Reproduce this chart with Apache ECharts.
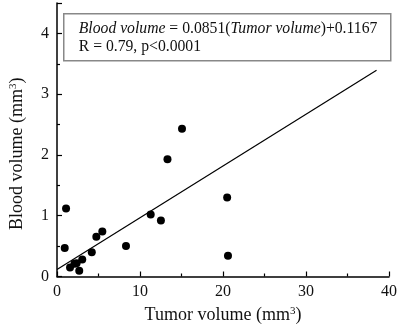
<!DOCTYPE html>
<html>
<head>
<meta charset="utf-8">
<script src="https://cdn.jsdelivr.net/npm/echarts@6/dist/echarts.min.js"></script>
<style>
  html, body { margin: 0; padding: 0; background: #fff; }
  #chart { width: 400px; height: 330px; }
</style>
</head>
<body>
<div id="chart"></div>
<script>
// measured points: tumor volume (mm3) vs blood volume (mm3)
const tumorVolume = [0.93, 1.09, 1.57, 2.1, 2.36, 2.68, 3.04, 4.19, 4.74, 5.46, 8.31, 11.29, 12.52, 13.31, 15.06, 20.5, 20.6]
const bloodVolume = [0.47, 1.12, 0.15, 0.21, 0.22, 0.095, 0.28, 0.40, 0.655, 0.74, 0.50, 1.02, 0.92, 1.93, 2.43, 1.30, 0.34]

// regression fit
const slope = 0.0851
const intercept = 0.1167
const fitRange = [0, 38.5]

const serif = 'Liberation Serif'

const chart = echarts.init(document.getElementById('chart'))

const points = tumorVolume.map((x, i) => [x, bloodVolume[i]])
const fitLine = fitRange.map(x => [x, slope * x + intercept])

const nameRich = {
  a: { fontFamily: serif, fontSize: 18, color: '#111' },
  s: { fontFamily: serif, fontSize: 11, color: '#111', verticalAlign: 'top', padding: [0, 0, 8, 0] }
}

chart.setOption({
  animation: false,
  grid: {
    left: 54,
    right: 10,
    top: 3,
    bottom: 53.5
  },
  xAxis: {
    type: 'value',
    min: 0,
    max: 40,
    interval: 10,
    name: '{a|Tumor volume (mm}{s|3}{a|)}',
    nameLocation: 'middle',
    nameGap: 29,
    nameTextStyle: { rich: nameRich },
    axisLine: { lineStyle: { color: '#000', width: 1.5 } },
    axisTick: { inside: true, length: 5, lineStyle: { color: '#000', width: 1.2 } },
    minorTick: { show: true, splitNumber: 2, length: 3, lineStyle: { color: '#000', width: 1.2 } },
    axisLabel: { fontFamily: serif, fontSize: 16, color: '#111', margin: 7 },
    splitLine: { show: false }
  },
  yAxis: {
    type: 'value',
    min: 0,
    max: 4.5,
    interval: 1,
    name: '{a|Blood volume (mm}{s|3}{a|)}',
    nameLocation: 'middle',
    nameGap: 30,
    nameTextStyle: {
      padding: [0, 0, 0, -28],
      rich: nameRich
    },
    axisLine: { lineStyle: { color: '#000', width: 1.5 } },
    axisTick: { inside: true, length: 5, lineStyle: { color: '#000', width: 1.2 } },
    minorTick: { show: true, splitNumber: 2, length: 3, lineStyle: { color: '#000', width: 1.2 } },
    axisLabel: { fontFamily: serif, fontSize: 16, color: '#111', margin: 8, showMaxLabel: false },
    splitLine: { show: false }
  },
  graphic: [{
    type: 'group',
    left: 63,
    top: 13,
    children: [{
      type: 'rect',
      shape: { x: 0, y: 0, width: 327, height: 47 },
      style: { fill: '#fff', stroke: '#888', lineWidth: 1.5 }
    }, {
      type: 'text',
      x: 15,
      y: 6,
      style: {
        text: '{i|Blood volume} = 0.0851({i|Tumor volume})+0.1167\nR = 0.79, p<0.0001',
        fontFamily: serif,
        fontSize: 15.7,
        lineHeight: 18,
        fill: '#111',
        rich: {
          i: { fontFamily: serif, fontSize: 15.7, fontStyle: 'italic', fill: '#111' }
        }
      }
    }]
  }],
  series: [{
    type: 'line',
    data: fitLine,
    symbol: 'none',
    lineStyle: { color: '#000', width: 1.2 },
    z: 2
  }, {
    type: 'scatter',
    data: points,
    symbolSize: 8,
    itemStyle: { color: '#000', opacity: 1 },
    z: 3
  }]
})
</script>
</body>
</html>
